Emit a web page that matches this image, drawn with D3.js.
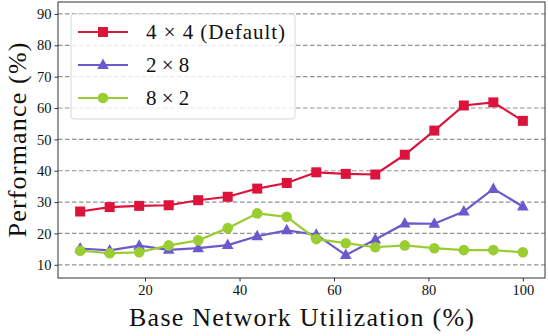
<!DOCTYPE html>
<html>
<head>
<meta charset="utf-8">
<script src="https://cdn.jsdelivr.net/npm/d3@7"></script>
<style>
  body { margin: 0; background: #fff; }
  svg text { font-family: "Liberation Serif", "Times New Roman", "DejaVu Serif", serif !important; fill: #111; }
</style>
</head>
<body>
<div id="chart"></div>
<script>
const utilization = [6.25, 12.5, 18.75, 25, 31.25, 37.5, 43.75, 50, 56.25, 62.5, 68.75, 75, 81.25, 87.5, 93.75, 100];
const perf4x4 = [27.0, 28.4, 28.8, 29.0, 30.6, 31.7, 34.3, 36.1, 39.5, 39.0, 38.8, 45.1, 52.8, 60.8, 61.8, 55.9];
const perf2x8 = [15.2, 14.6, 16.1, 14.8, 15.3, 16.3, 19.1, 21.0, 19.6, 13.1, 18.1, 23.2, 23.1, 27.0, 34.2, 28.6];
const perf8x2 = [14.5, 13.7, 14.0, 16.2, 17.8, 21.7, 26.4, 25.3, 18.2, 16.9, 15.6, 16.2, 15.3, 14.7, 14.7, 14.0];
const xTicks = [20, 40, 60, 80, 100];
const yTicks = [10, 20, 30, 40, 50, 60, 70, 80, 90];

const series = [
  { name: '4 × 4 (Default)', values: perf4x4, color: '#dc143c', marker: 'square' },
  { name: '2 × 8', values: perf2x8, color: '#6a5acd', marker: 'triangle' },
  { name: '8 × 2', values: perf8x2, color: '#9acd32', marker: 'circle' },
];

const width = 548, height = 336;
const margin = { left: 58, right: 3, top: 2, bottom: 58 };

const svg = d3.select('#chart').append('svg')
  .attr('width', width)
  .attr('height', height);

const x = d3.scaleLinear().domain([1.56, 104.69]).range([margin.left, width - margin.right]);
const y = d3.scaleLinear().domain([5.8, 93.8]).range([height - margin.bottom, margin.top]);

// grid lines
svg.append('g')
  .selectAll('line').data(yTicks).enter()
  .append('line')
  .attr('x1', margin.left).attr('x2', width - margin.right)
  .attr('y1', d => y(d)).attr('y2', d => y(d))
  .attr('stroke', '#808080')
  .attr('stroke-width', 1.2)
  .attr('stroke-dasharray', '4.5,2.5')
  .attr('opacity', 0.85);

// axes
const yAxis = svg.append('g')
  .attr('transform', `translate(${margin.left},0)`)
  .call(d3.axisLeft(y).tickValues(yTicks).tickSize(3.5).tickPadding(3).tickSizeOuter(0));
const xAxis = svg.append('g')
  .attr('transform', `translate(0,${height - margin.bottom})`)
  .call(d3.axisBottom(x).tickValues(xTicks).tickSize(3.5).tickPadding(3).tickSizeOuter(0));
[xAxis, yAxis].forEach(a => {
  a.attr('font-family', null);
  a.select('.domain').remove();
  a.selectAll('text').style('font-size', '14.5px').attr('fill', '#222');
  a.selectAll('line').attr('stroke', '#333');
});

// frame
svg.append('rect')
  .attr('x', margin.left).attr('y', margin.top)
  .attr('width', width - margin.left - margin.right)
  .attr('height', height - margin.top - margin.bottom)
  .attr('fill', 'none')
  .attr('stroke', '#333')
  .attr('stroke-width', 1);

function drawMarker(sel, kind, color) {
  if (kind === 'square') {
    sel.append('rect').attr('x', -5).attr('y', -5).attr('width', 10).attr('height', 10).attr('fill', color);
  } else if (kind === 'triangle') {
    sel.append('path').attr('d', 'M0,-6.5 L5.8,4 L-5.8,4 Z').attr('fill', color);
  } else {
    sel.append('circle').attr('r', 5.3).attr('fill', color);
  }
}

const line = d3.line().x((d, i) => x(utilization[i])).y(d => y(d));

series.forEach(s => {
  svg.append('path')
    .attr('d', line(s.values))
    .attr('fill', 'none')
    .attr('stroke', s.color)
    .attr('stroke-width', 2.2);
  svg.append('g').selectAll('g').data(s.values).enter()
    .append('g')
    .attr('transform', (d, i) => `translate(${x(utilization[i])},${y(d)})`)
    .each(function () { drawMarker(d3.select(this), s.marker, s.color); });
});

// legend
const legend = svg.append('g');
legend.append('rect')
  .attr('x', 71).attr('y', 14).attr('width', 224).attr('height', 105)
  .attr('rx', 3)
  .attr('fill', 'rgba(255,255,255,0.8)')
  .attr('stroke', '#d8d8d8');
series.forEach((s, i) => {
  const ly = 32 + i * 33;
  const row = legend.append('g').attr('transform', `translate(0,${ly})`);
  row.append('line').attr('x1', 78).attr('x2', 128).attr('y1', 0).attr('y2', 0)
    .attr('stroke', s.color).attr('stroke-width', 2.2);
  drawMarker(row.append('g').attr('transform', 'translate(103,0)'), s.marker, s.color);
  const t = row.append('text').attr('x', 146).attr('y', 0).attr('dy', '0.35em')
    .style('font-size', '21px').text(s.name);
  if (i === 0) t.attr('textLength', 139).attr('lengthAdjust', 'spacing');
});

// axis labels
svg.append('text')
  .attr('x', (margin.left + width - margin.right) / 2)
  .attr('y', 326)
  .attr('text-anchor', 'middle')
  .attr('textLength', 345)
  .attr('lengthAdjust', 'spacing')
  .style('font-size', '26px')
  .text('Base Network Utilization (%)');
svg.append('text')
  .attr('transform', `translate(26,${(margin.top + height - margin.bottom) / 2}) rotate(-90)`)
  .attr('text-anchor', 'middle')
  .attr('textLength', 195)
  .attr('lengthAdjust', 'spacing')
  .style('font-size', '26px')
  .text('Performance (%)');
</script>
</body>
</html>
